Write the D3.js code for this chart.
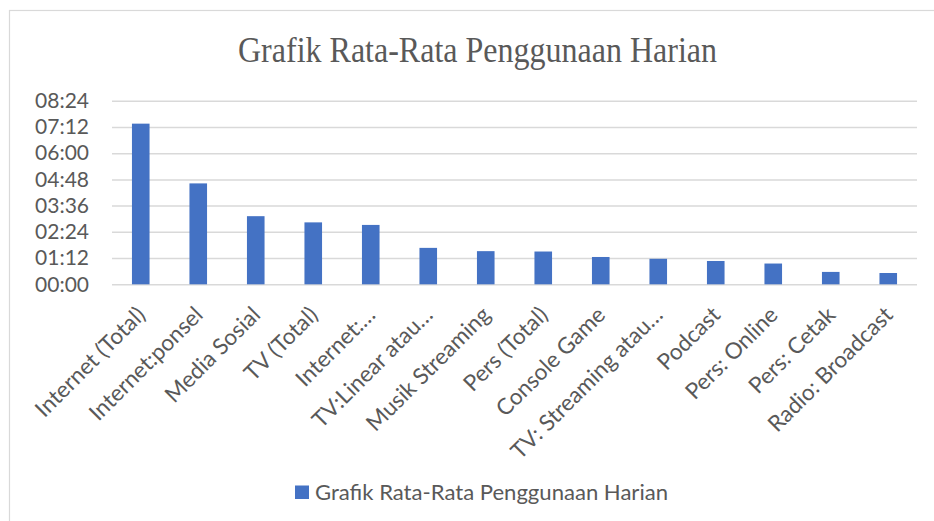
<!DOCTYPE html>
<html>
<head>
<meta charset="utf-8">
<script src="https://cdn.jsdelivr.net/npm/d3@7"></script>
<style>
  body { margin: 0; background: #fff; }
  svg { display: block; }
</style>
</head>
<body>
<div id="chart"></div>
<script>
// category names as shown on the axis (Excel truncated the long ones)
const categories = [
  'Internet (Total)', 'Internet:ponsel', 'Media Sosial', 'TV (Total)',
  'Internet:…', 'TV:Linear atau…', 'Musik Streaming', 'Pers (Total)',
  'Console Game', 'TV: Streaming atau…', 'Podcast', 'Pers: Online',
  'Pers: Cetak', 'Radio: Broadcast'
];
// average daily use, in minutes
const minutes = [441, 277, 187, 170, 163, 100, 91, 90, 75, 70, 64, 57, 34, 31];
// y ticks, in minutes (every 01:12)
const tickMinutes = [0, 72, 144, 216, 288, 360, 432, 504];
const seriesName = 'Grafik Rata-Rata Penggunaan Harian';
const title = 'Grafik Rata-Rata Penggunaan Harian';

const svgWidth = 934;
const svgHeight = 521;
const margin = { top: 100.7, right: 17, bottom: 236.7, left: 112 };
const width = svgWidth - margin.left - margin.right;
const height = svgHeight - margin.top - margin.bottom;

const textColor = '#595959';
const barColor = '#4472C4';
const gridColor = '#d9d9d9';
const sans = 'Lato, "Open Sans", sans-serif';

function fmt(m) {
  const h = Math.floor(m / 60), mm = m % 60;
  return String(h).padStart(2, '0') + ':' + String(mm).padStart(2, '0');
}

const svg = d3.select('#chart')
  .append('svg')
  .attr('width', svgWidth)
  .attr('height', svgHeight);

// chart border
svg.append('rect')
  .attr('x', 9.5).attr('y', 10.5)
  .attr('width', 1000).attr('height', 1000)
  .attr('fill', 'none')
  .attr('stroke', gridColor)
  .attr('stroke-width', 1.2);

// title
svg.append('text')
  .attr('x', 477.5).attr('y', 62)
  .attr('text-anchor', 'middle')
  .attr('font-family', '"Liberation Serif", "Times New Roman", serif')
  .attr('font-size', 36)
  .attr('fill', textColor)
  .attr('textLength', 479)
  .attr('lengthAdjust', 'spacingAndGlyphs')
  .text(title);

const chart = svg.append('g')
  .attr('transform', `translate(${margin.left}, ${margin.top})`);

const xScale = d3.scaleBand()
  .domain(categories)
  .range([0, width])
  .paddingInner(0.694)
  .paddingOuter(0.347);

const yScale = d3.scaleLinear()
  .domain([0, 504])
  .range([height, 0]);

// horizontal grid lines
chart.append('g')
  .call(d3.axisLeft(yScale)
    .tickValues(tickMinutes)
    .tickSize(-width)
    .tickFormat(''))
  .call(g => g.select('.domain').remove())
  .selectAll('.tick line')
  .attr('stroke', gridColor)
  .attr('stroke-width', 1.5);

// y tick labels
chart.append('g')
  .call(d3.axisLeft(yScale)
    .tickValues(tickMinutes)
    .tickSize(0)
    .tickPadding(23)
    .tickFormat(fmt))
  .call(g => g.select('.domain').remove())
  .selectAll('text')
  .attr('font-family', sans)
  .attr('font-size', 21)
  .attr('fill', textColor);

// bars
chart.selectAll('rect.bar')
  .data(minutes)
  .enter().append('rect')
  .attr('class', 'bar')
  .attr('x', (d, i) => xScale(categories[i]))
  .attr('y', d => yScale(d))
  .attr('width', xScale.bandwidth())
  .attr('height', d => height - yScale(d))
  .attr('fill', barColor);

// x axis labels, rotated
chart.append('g')
  .attr('transform', `translate(0, ${height})`)
  .call(d3.axisBottom(xScale).tickSize(0).tickPadding(0))
  .call(g => g.select('.domain').remove())
  .selectAll('text')
  .attr('font-family', sans)
  .attr('font-size', 22.5)
  .attr('fill', textColor)
  .attr('y', 0)
  .attr('dy', 0)
  .style('text-anchor', 'end')
  .attr('transform', 'translate(6, 32) rotate(-45)');

// legend
const legend = svg.append('g').attr('transform', 'translate(295, 485.5)');
legend.append('rect')
  .attr('width', 14).attr('height', 13.5)
  .attr('fill', barColor);
legend.append('text')
  .attr('x', 20).attr('y', 14)
  .attr('font-family', sans)
  .attr('font-size', 21)
  .attr('fill', textColor)
  .attr('textLength', 353)
  .attr('lengthAdjust', 'spacingAndGlyphs')
  .text(seriesName);
</script>
</body>
</html>
